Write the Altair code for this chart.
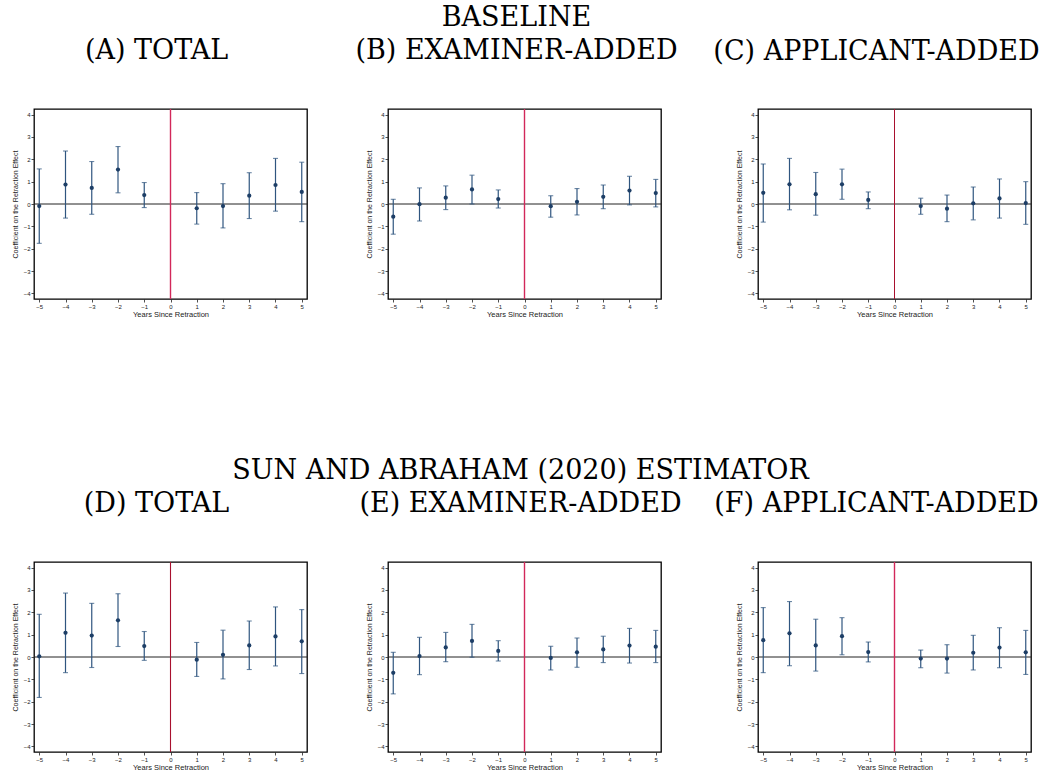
import altair as alt
import pandas as pd

years = [-5, -4, -3, -2, -1, 1, 2, 3, 4, 5]

A_coef = [-0.09, 0.87, 0.72, 1.54, 0.40, -0.19, -0.09, 0.37, 0.85, 0.54]
A_hi = [1.57, 2.37, 1.90, 2.57, 0.96, 0.51, 0.91, 1.40, 2.04, 1.87]
A_lo = [-1.76, -0.63, -0.46, 0.50, -0.16, -0.90, -1.07, -0.65, -0.32, -0.79]

B_coef = [-0.57, -0.01, 0.28, 0.65, 0.22, -0.10, 0.10, 0.32, 0.60, 0.49]
B_hi = [0.21, 0.72, 0.81, 1.29, 0.63, 0.37, 0.69, 0.85, 1.24, 1.10]
B_lo = [-1.35, -0.76, -0.25, 0.00, -0.18, -0.59, -0.49, -0.21, -0.04, -0.13]

C_coef = [0.50, 0.88, 0.44, 0.88, 0.18, -0.09, -0.21, 0.03, 0.25, 0.04]
C_hi = [1.79, 2.04, 1.41, 1.56, 0.54, 0.26, 0.40, 0.76, 1.12, 1.00]
C_lo = [-0.81, -0.26, -0.50, 0.21, -0.21, -0.46, -0.79, -0.71, -0.63, -0.91]

D_coef = [0.03, 1.08, 0.96, 1.64, 0.49, -0.12, 0.10, 0.52, 0.92, 0.70]
D_hi = [1.91, 2.86, 2.40, 2.83, 1.14, 0.65, 1.20, 1.61, 2.24, 2.12]
D_lo = [-1.81, -0.70, -0.47, 0.47, -0.15, -0.87, -0.98, -0.56, -0.40, -0.74]

E_coef = [-0.71, 0.04, 0.43, 0.72, 0.27, -0.04, 0.21, 0.34, 0.51, 0.46]
E_hi = [0.21, 0.88, 1.10, 1.46, 0.73, 0.48, 0.85, 0.93, 1.28, 1.19]
E_lo = [-1.65, -0.79, -0.21, -0.01, -0.18, -0.58, -0.46, -0.25, -0.27, -0.25]

F_coef = [0.75, 1.06, 0.52, 0.93, 0.22, -0.07, -0.07, 0.19, 0.42, 0.21]
F_hi = [2.21, 2.48, 1.69, 1.76, 0.67, 0.31, 0.55, 0.97, 1.31, 1.19]
F_lo = [-0.70, -0.39, -0.63, 0.10, -0.22, -0.48, -0.72, -0.58, -0.48, -0.78]

section_titles = ["BASELINE", "SUN AND ABRAHAM (2020) ESTIMATOR"]
panel_titles = [
    ["(A) TOTAL", "(B) EXAMINER-ADDED", "(C) APPLICANT-ADDED"],
    ["(D) TOTAL", "(E) EXAMINER-ADDED", "(F) APPLICANT-ADDED"],
]
x_ticks = list(range(-5, 6))
y_ticks = list(range(-4, 5))

SERIF = "DejaVu Serif"
SANS = "Liberation Sans"
NAVY = "#1d3e66"
BAR = "#2f557f"
RED = "#d2285a"
DARKRED = "#a8102e"
PW, PH = 273, 190
TSIZE = 27
OFFSET = 43


def panel(coef, lo, hi, title, dx, section=None, red=RED, red_w=1.4):
    df = pd.DataFrame({"year": years, "coef": coef, "lo": lo, "hi": hi})
    zero = pd.DataFrame({"year": [0], "coef": [0]})
    xs = alt.Scale(domain=[-5.2, 5.2], nice=False, zero=False)
    ys = alt.Scale(domain=[-4.25, 4.25], nice=False, zero=False)
    x = alt.X("year:Q", scale=xs,
              axis=alt.Axis(values=x_ticks, title="Years Since Retraction"))
    y_axis = alt.Axis(values=y_ticks, title="Coefficient on the Retraction Effect")
    base = alt.Chart(df)
    hline = alt.Chart(zero).mark_rule(color="#222222", strokeWidth=1).encode(
        y=alt.Y("coef:Q", scale=ys, axis=y_axis))
    vline = alt.Chart(zero).mark_rule(color=red, strokeWidth=red_w).encode(x=x)
    bars = base.mark_rule(color=BAR, strokeWidth=1.2).encode(
        x=x, y=alt.Y("lo:Q", scale=ys, axis=y_axis), y2="hi:Q")
    cap_lo = base.mark_tick(orient="horizontal", color=BAR, size=5, thickness=1.1).encode(
        x=x, y=alt.Y("lo:Q", scale=ys, axis=y_axis))
    cap_hi = base.mark_tick(orient="horizontal", color=BAR, size=5, thickness=1.1).encode(
        x=x, y=alt.Y("hi:Q", scale=ys, axis=y_axis))
    pts = base.mark_circle(color=NAVY, size=18, opacity=1).encode(
        x=x, y=alt.Y("coef:Q", scale=ys, axis=y_axis))
    if section is None:
        tp = alt.TitleParams(
            text=title, font=SERIF, fontSize=TSIZE, fontWeight="normal",
            anchor="middle", frame="group", dx=dx, offset=OFFSET, color="black")
    else:
        tp = alt.TitleParams(
            text=section, subtitle=title, font=SERIF, fontSize=TSIZE,
            fontWeight="normal", subtitleFont=SERIF, subtitleFontSize=TSIZE,
            subtitleColor="black", subtitlePadding=6,
            anchor="middle", frame="group", dx=dx, offset=OFFSET, color="black")
    return alt.layer(hline, vline, bars, cap_lo, cap_hi, pts).properties(
        width=PW, height=PH, title=tp)


def spacer(w):
    d = pd.DataFrame({"year": [0], "coef": [0]})
    return alt.Chart(d).mark_point(opacity=0).encode(
        x=alt.X("year:Q", axis=None), y=alt.Y("coef:Q", axis=None)
    ).properties(width=w, height=PH,
                 view=alt.ViewBackground(stroke="transparent", strokeWidth=0))


pA = panel(A_coef, A_lo, A_hi, panel_titles[0][0], -14)
pB = panel(B_coef, B_lo, B_hi, panel_titles[0][1], -8, section_titles[0])
pC = panel(C_coef, C_lo, C_hi, panel_titles[0][2], -18, red=DARKRED, red_w=1.0)
pD = panel(D_coef, D_lo, D_hi, panel_titles[1][0], -14, red=DARKRED, red_w=1.1)
pE = panel(E_coef, E_lo, E_hi, panel_titles[1][1], -4, section_titles[1])
pF = panel(F_coef, F_lo, F_hi, panel_titles[1][2], -18)

chart = alt.concat(
    pA, spacer(71), pB, spacer(87), pC,
    pD, spacer(71), pE, spacer(87), pF,
    columns=5, spacing={"row": 263, "column": 5}, bounds="flush",
).properties(
    padding={"left": 10, "top": 3, "right": 5, "bottom": 5},
    background="white",
).configure_view(
    stroke="black", strokeWidth=1.3
).configure_axis(
    grid=False, domain=False, ticks=True, tickColor="#222222", tickSize=3,
    tickWidth=0.8, labelFont=SANS, labelFontSize=6, labelColor="#222222",
    labelPadding=1, titleFont=SANS, titleFontWeight="normal", titleColor="#222222",
).configure_axisY(titleFontSize=7, titlePadding=5).configure_axisX(
    titleFontSize=7.5, titlePadding=1)

chart.save("out.html", embed_options={"renderer": "svg", "actions": False})
